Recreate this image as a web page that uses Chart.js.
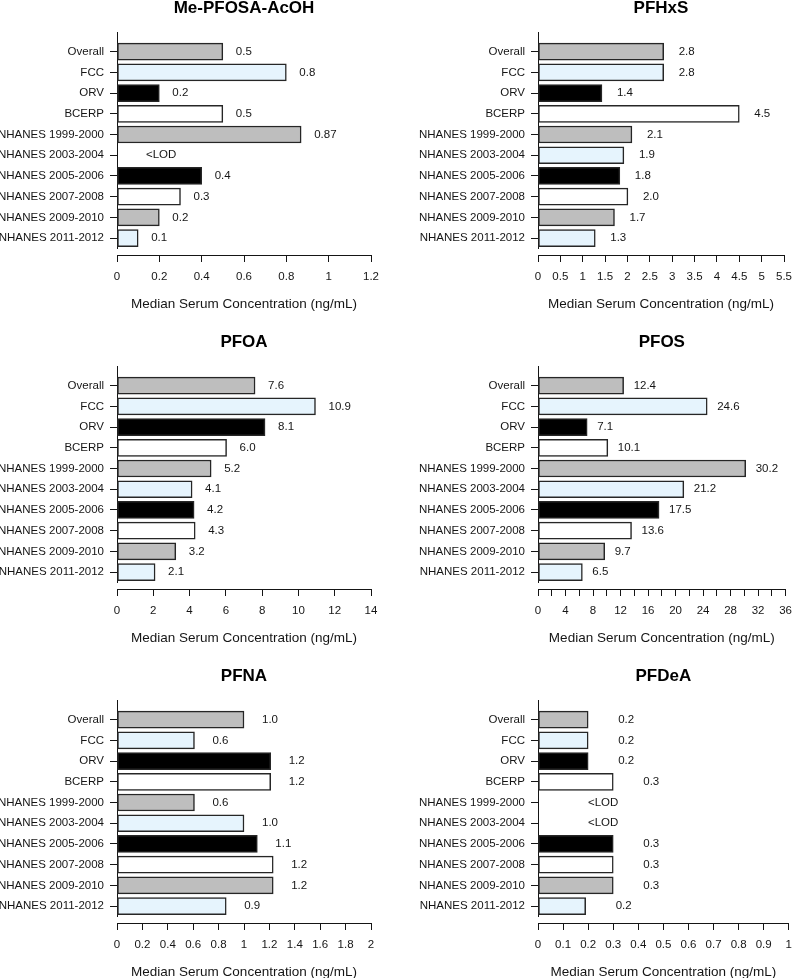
<!DOCTYPE html>
<html>
<head>
<meta charset="utf-8">
<title>Median Serum Concentration</title>
<script src="https://cdn.jsdelivr.net/npm/chart.js@4.4.1/dist/chart.umd.min.js"></script>
<style>
  html, body { margin: 0; padding: 0; background: #fff; overflow: hidden; width: 800px; height: 978px; }
  .panel { position: absolute; width: 400px; height: 333px; }
</style>
</head>
<body>
<div class="panel" style="left:0;top:0"><canvas id="chartMePfosa" width="400" height="333"></canvas></div>
<div class="panel" style="left:400px;top:0"><canvas id="chartPfhxs" width="400" height="333"></canvas></div>
<div class="panel" style="left:0;top:334px"><canvas id="chartPfoa" width="400" height="333"></canvas></div>
<div class="panel" style="left:400px;top:334px"><canvas id="chartPfos" width="400" height="333"></canvas></div>
<div class="panel" style="left:0;top:668px"><canvas id="chartPfna" width="400" height="333"></canvas></div>
<div class="panel" style="left:400px;top:668px"><canvas id="chartPfdea" width="400" height="333"></canvas></div>

<script>
const categories = [
  'Overall', 'FCC', 'ORV', 'BCERP',
  'NHANES 1999-2000', 'NHANES 2003-2004', 'NHANES 2005-2006',
  'NHANES 2007-2008', 'NHANES 2009-2010', 'NHANES 2011-2012'
]

// null = below limit of detection, no bar
const mePfosaValues = [0.5, 0.8, 0.2, 0.5, 0.87, null, 0.4, 0.3, 0.2, 0.1]
const mePfosaLabels = ['0.5', '0.8', '0.2', '0.5', '0.87', '<LOD', '0.4', '0.3', '0.2', '0.1']
const mePfosaTicks = [0, 0.2, 0.4, 0.6, 0.8, 1, 1.2]

const pfhxsValues = [2.81, 2.81, 1.43, 4.5, 2.1, 1.92, 1.83, 2.01, 1.71, 1.28]
const pfhxsLabels = ['2.8', '2.8', '1.4', '4.5', '2.1', '1.9', '1.8', '2.0', '1.7', '1.3']
const pfhxsTicks = [0, 0.5, 1, 1.5, 2, 2.5, 3, 3.5, 4, 4.5, 5, 5.5]

const pfoaValues = [7.61, 10.94, 8.16, 6.04, 5.19, 4.14, 4.25, 4.31, 3.24, 2.1]
const pfoaLabels = ['7.6', '10.9', '8.1', '6.0', '5.2', '4.1', '4.2', '4.3', '3.2', '2.1']
const pfoaTicks = [0, 2, 4, 6, 8, 10, 12, 14]

const pfosValues = [12.45, 24.6, 7.15, 10.15, 30.2, 21.2, 17.6, 13.6, 9.7, 6.45]
const pfosLabels = ['12.4', '24.6', '7.1', '10.1', '30.2', '21.2', '17.5', '13.6', '9.7', '6.5']
const pfosTicks = [0, 2, 4, 6, 8, 10, 12, 14, 16, 18, 20, 22, 24, 26, 28, 30, 32, 34, 36]
const pfosTickLabels = ['0', '', '4', '', '8', '', '12', '', '16', '', '20', '', '24', '', '28', '', '32', '', '36']

const pfnaValues = [1.0, 0.61, 1.21, 1.21, 0.61, 1.0, 1.105, 1.23, 1.23, 0.86]
const pfnaLabels = ['1.0', '0.6', '1.2', '1.2', '0.6', '1.0', '1.1', '1.2', '1.2', '0.9']
const pfnaTicks = [0, 0.2, 0.4, 0.6, 0.8, 1, 1.2, 1.4, 1.6, 1.8, 2]

const pfdeaValues = [0.2, 0.2, 0.2, 0.3, null, null, 0.3, 0.3, 0.3, 0.19]
const pfdeaLabels = ['0.2', '0.2', '0.2', '0.3', '<LOD', '<LOD', '0.3', '0.3', '0.3', '0.2']
const pfdeaTicks = [0, 0.1, 0.2, 0.3, 0.4, 0.5, 0.6, 0.7, 0.8, 0.9, 1]

const fillCycle = ['#bebebe', '#e6f4fd', '#000000', '#ffffff']
const ink = '#151515'
const fontFamily = '"Liberation Sans", Arial, Helvetica, sans-serif'

Chart.defaults.font.family = fontFamily
Chart.defaults.color = ink

function makePanel(canvasId, p) {
  const leftCol = p.col === 0

  // bar-end value labels (and <LOD marks where there is no bar)
  const valueLabels = {
    id: 'valueLabels',
    afterDatasetsDraw(chart) {
      const ctx = chart.ctx
      const meta = chart.getDatasetMeta(0)
      const x0 = chart.scales.x.getPixelForValue(0)
      ctx.save()
      ctx.font = '11.5px ' + fontFamily
      ctx.fillStyle = ink
      ctx.textAlign = 'left'
      ctx.textBaseline = 'middle'
      p.labels.forEach((txt, i) => {
        const y = chart.scales.y.getPixelForValue(i)
        const x = p.values[i] == null ? x0 + p.lodGap : meta.data[i].x + p.gap
        ctx.fillText(txt, x, y)
      })
      ctx.restore()
    }
  }

  // R-style detached x axis: drop it a few px below the plot region
  const detachAxis = {
    id: 'detachAxis',
    afterLayout(chart) {
      chart.scales.x.top += 7
      chart.scales.x.bottom += 7
    }
  }

  return new Chart(document.getElementById(canvasId), {
    type: 'bar',
    data: {
      datasets: [{
        data: p.values.map((v, i) => ({ x: v, y: i })),
        backgroundColor: categories.map((c, i) => fillCycle[i % fillCycle.length]),
        borderColor: '#262626',
        borderWidth: 1.5,
        borderSkipped: false,
        barThickness: 17
      }]
    },
    options: {
      indexAxis: 'y',
      responsive: false,
      animation: false,
      events: [],
      layout: { padding: { left: 0, right: leftCol ? 29 : 8, top: 0, bottom: 0 } },
      plugins: {
        legend: { display: false },
        tooltip: { enabled: false },
        title: {
          display: true,
          text: p.title,
          fullSize: false,
          color: '#000',
          font: { size: 17, weight: 'bold', lineHeight: 1 },
          padding: { top: 0, bottom: 15 }
        }
      },
      scales: {
        x: {
          type: 'linear',
          min: 0,
          max: p.ticks[p.ticks.length - 1],
          afterBuildTicks: (s) => { s.ticks = p.ticks.map(v => ({ value: v })) },
          afterFit: (s) => { s.height = 85 },
          ticks: {
            autoSkip: false,
            maxRotation: 0,
            padding: 8,
            font: { size: 11.5 },
            callback: (v, i) => p.tickLabels ? p.tickLabels[i] : String(+v.toFixed(2))
          },
          grid: { drawOnChartArea: false, drawTicks: true, tickLength: 7, color: ink, lineWidth: 1 },
          border: { display: true, color: ink, width: 1 },
          title: {
            display: true,
            text: 'Median Serum Concentration (ng/mL)',
            font: { size: 13.5 },
            padding: { top: 0, bottom: 28 }
          }
        },
        y: {
          type: 'linear',
          reverse: true,
          offset: false,
          min: -0.95,
          max: 9.48,
          afterBuildTicks: (s) => { s.ticks = categories.map((c, i) => ({ value: i })) },
          afterFit: (s) => { s.width = leftCol ? 117 : 138 },
          ticks: {
            autoSkip: false,
            padding: 6,
            font: { size: 11.5 },
            callback: (v) => categories[v]
          },
          grid: { offset: false, drawOnChartArea: false, drawTicks: true, tickLength: 7, color: ink, lineWidth: 1 },
          border: { display: true, color: ink, width: 1 }
        }
      }
    },
    plugins: [valueLabels, detachAxis]
  })
}

makePanel('chartMePfosa', { col: 0, title: 'Me-PFOSA-AcOH', values: mePfosaValues, labels: mePfosaLabels, ticks: mePfosaTicks, gap: 13, lodGap: 29 })
makePanel('chartPfhxs', { col: 1, title: 'PFHxS', values: pfhxsValues, labels: pfhxsLabels, ticks: pfhxsTicks, gap: 15, lodGap: 29 })
makePanel('chartPfoa', { col: 0, title: 'PFOA', values: pfoaValues, labels: pfoaLabels, ticks: pfoaTicks, gap: 13, lodGap: 29 })
makePanel('chartPfos', { col: 1, title: 'PFOS', values: pfosValues, labels: pfosLabels, ticks: pfosTicks, tickLabels: pfosTickLabels, gap: 10, lodGap: 29 })
makePanel('chartPfna', { col: 0, title: 'PFNA', values: pfnaValues, labels: pfnaLabels, ticks: pfnaTicks, gap: 18, lodGap: 29 })
makePanel('chartPfdea', { col: 1, title: 'PFDeA', values: pfdeaValues, labels: pfdeaLabels, ticks: pfdeaTicks, gap: 30, lodGap: 50 })
</script>
</body>
</html>
